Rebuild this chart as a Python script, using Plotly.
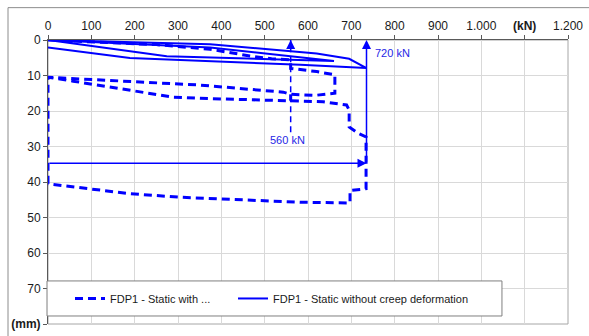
import plotly.graph_objects as go

# ---- data (load in kN, settlement in mm) ----
x_ticks = [0, 100, 200, 300, 400, 500, 600, 700, 800, 900, 1000, 1100, 1200]
x_tick_text = ["0", "100", "200", "300", "400", "500", "600", "700", "800", "900",
               "1.000", "<b>(kN)</b>", "1.200"]
y_ticks = [0, 10, 20, 30, 40, 50, 60, 70, 80]
y_tick_text = ["0", "10", "20", "30", "40", "50", "60", "70", "<b>(mm)</b>"]

creep_load = [0, 250, 374, 466, 516, 560, 560, 620, 662, 662, 616, 560, 543, 351, 0, None,
              560, 560, None,
              0, 0, 58, 212, 289, 374, 539, 560, 635, 689, 695, 695, 716, 734, 734, 697, 697,
              582, 443, 305, 189, 97, 0]
creep_disp = [0, 1.3, 2.6, 4.5, 5.3, 5.6, 8.0, 8.9, 9.8, 15.0, 15.6, 15.3, 14.7, 12.7, 10.5, None,
              15.3, 17.1, None,
              40.5, 10.5, 11.6, 14.5, 16.1, 16.5, 17.0, 17.1, 17.4, 18.3, 19.7, 24.5, 26.3, 27.3, 41.9, 42.4, 45.9,
              45.7, 45.0, 44.3, 43.3, 41.9, 40.5]

static_load = [0, 374, 620, 695, 735, 582, 189, 0, None, 0, 374, 660, 274, 0]
static_disp = [0, 1.2, 3.8, 5.3, 7.9, 7.0, 5.1, 2.1, None, 0, 2.1, 5.9, 4.6, 0]

arrow_load_creep = 560
arrow_disp_creep = 26.0
arrow_load_static = 735
arrow_disp_static = 34.7
label_creep = "560 kN"
label_static = "720 kN"

BLUE = "#0000ff"
TXT_BLUE = "#2626e6"
FONT = "Liberation Sans, Arial, sans-serif"

fig = go.Figure()
fig.add_trace(go.Scatter(x=creep_load, y=creep_disp, mode="lines",
                         name="FDP1 - Static with ...", legend="legend",
                         line=dict(color=BLUE, width=3, dash="8px,5px")))
fig.add_trace(go.Scatter(x=static_load, y=static_disp, mode="lines",
                         name="FDP1 - Static without creep deformation", legend="legend2",
                         line=dict(color=BLUE, width=2)))
# dashed arrow shaft at 560 kN
fig.add_trace(go.Scatter(x=[arrow_load_creep, arrow_load_creep], y=[arrow_disp_creep, 0],
                         mode="lines", showlegend=False,
                         line=dict(color=BLUE, width=1.5, dash="6px,4px")))

ann = [
    dict(x=arrow_load_creep, y=0, ax=arrow_load_creep, ay=3, xref="x", yref="y",
         axref="x", ayref="y", showarrow=True, arrowhead=2, arrowsize=1.2,
         arrowwidth=1.5, arrowcolor=BLUE, text=""),
    dict(x=arrow_load_static, y=0, ax=arrow_load_static, ay=arrow_disp_static,
         xref="x", yref="y", axref="x", ayref="y", showarrow=True, arrowhead=2,
         arrowsize=1.2, arrowwidth=1.5, arrowcolor=BLUE, text=""),
    dict(x=arrow_load_static, y=arrow_disp_static, ax=0, ay=arrow_disp_static,
         xref="x", yref="y", axref="x", ayref="y", showarrow=True, arrowhead=2,
         arrowsize=1.2, arrowwidth=1.5, arrowcolor=BLUE, text=""),
    dict(x=arrow_load_static, y=3.6, xref="x", yref="y", text=label_static,
         showarrow=False, xanchor="left", xshift=6,
         font=dict(family=FONT, size=11, color=TXT_BLUE)),
    dict(x=arrow_load_creep, y=28.2, xref="x", yref="y", text=label_creep,
         showarrow=False, xanchor="center", xshift=-3,
         font=dict(family=FONT, size=11, color=TXT_BLUE)),
]

shapes = [
    # outer chart border
    dict(type="rect", xref="paper", yref="paper", x0=-0.0769, x1=1.045, y0=-0.045, y1=1.1139,
         line=dict(color="#8c8c8c", width=1), fillcolor="rgba(0,0,0,0)", layer="below"),
    # plot area frame (right/bottom)
    dict(type="rect", xref="paper", yref="paper", x0=0, x1=1, y0=0, y1=1,
         line=dict(color="#a6a6a6", width=1), fillcolor="rgba(0,0,0,0)", layer="below"),
    # legend box
    dict(type="rect", xref="paper", yref="paper", x0=-0.0019, x1=0.873, y0=0.0282, y1=0.1516,
         line=dict(color="#7f7f7f", width=1), fillcolor="white", layer="above"),
]

leg_common = dict(orientation="h", yanchor="middle", y=0.0899, xanchor="left",
                  bgcolor="rgba(0,0,0,0)", borderwidth=0,
                  font=dict(family=FONT, size=11, color="#1a1a1a"))

fig.update_layout(
    width=589, height=336,
    margin=dict(l=48, r=21, t=40, b=12, autoexpand=False),
    paper_bgcolor="white", plot_bgcolor="white",
    font=dict(family=FONT, size=12, color="#1a1a1a"),
    showlegend=True,
    legend=dict(x=0.0423, **leg_common),
    legend2=dict(x=0.3558, **leg_common),
    annotations=ann,
    shapes=shapes,
)
fig.update_xaxes(range=[0, 1200], side="top", tickmode="array", tickvals=x_ticks,
                 ticktext=x_tick_text, showgrid=True, gridcolor="#d9d9d9", gridwidth=1,
                 showline=True, linecolor="#595959", linewidth=1, zeroline=False,
                 ticks="outside", ticklen=4, tickcolor="#595959", automargin=False,
                 tickfont=dict(size=12, color="#1a1a1a"))
fig.update_yaxes(range=[80, 0], tickmode="array", tickvals=y_ticks, ticktext=y_tick_text,
                 showgrid=True, gridcolor="#d9d9d9", gridwidth=1,
                 showline=True, linecolor="#595959", linewidth=1, zeroline=False,
                 ticks="outside", ticklen=4, tickcolor="#595959", automargin=False,
                 tickfont=dict(size=12, color="#1a1a1a"))

fig.write_html("out.html")
